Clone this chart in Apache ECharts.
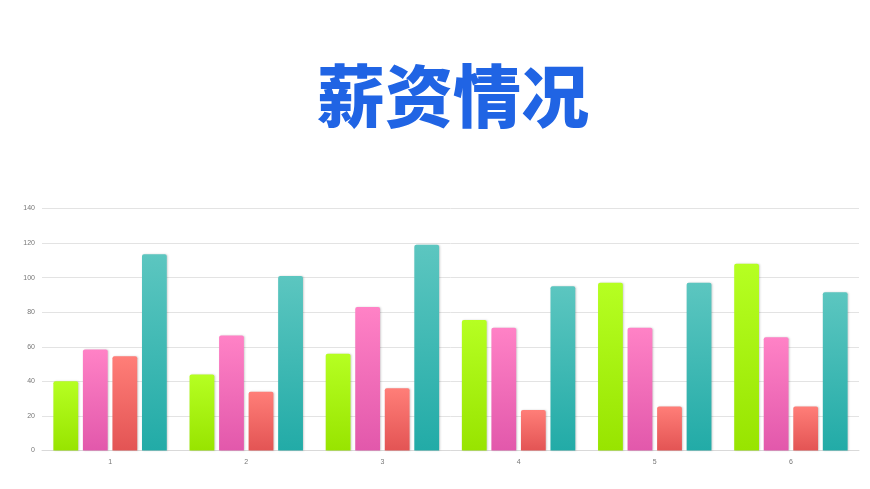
<!DOCTYPE html>
<html>
<head>
<meta charset="utf-8">
<script src="https://cdn.jsdelivr.net/npm/echarts@6/dist/echarts.min.js"></script>
<style>html,body{margin:0;padding:0;background:#fff;}#c{width:870px;height:489px;}</style>
</head>
<body>
<div id="c"></div>
<script>
const categories = ['1', '2', '3', '4', '5', '6'];
const seriesGreen = [40, 44, 56, 75.5, 97, 108];
const seriesPink = [58.5, 66.5, 83, 71, 71, 65.5];
const seriesRed = [54.5, 34, 36, 23.5, 25.5, 25.5];
const seriesTeal = [113.5, 101, 119, 95, 97, 91.5];
const yTicks = [0, 20, 40, 60, 80, 100, 120, 140];

function grad(top, bottom) {
  return new echarts.graphic.LinearGradient(0, 0, 0, 1, [
    { offset: 0, color: top },
    { offset: 1, color: bottom }
  ]);
}
const chart = echarts.init(document.getElementById('c'));
const mk = (name, data, top, bottom) => ({
  name, type: 'bar', data,
  barGap: '19%', barCategoryGap: '16.7%',
  itemStyle: {
    color: grad(top, bottom),
    borderRadius: [2, 2, 0, 0],
    shadowColor: 'rgba(0,0,0,0.18)', shadowBlur: 2, shadowOffsetX: 1, shadowOffsetY: 0
  }
});
chart.setOption({
  backgroundColor: '#fff',
  animation: false,
  title: {
    text: '薪资情况', left: 312, top: 57,
    textStyle: { fontFamily: 'Noto Sans CJK SC', fontWeight: 900, fontSize: 68, color: '#2064e4' }
  },
  grid: { left: 42, right: 11, top: 208.5, bottom: 38.5 },
  xAxis: {
    type: 'category', data: categories,
    axisLine: { lineStyle: { color: '#d9d9d9' } },
    axisTick: { show: false },
    axisLabel: { fontSize: 7, color: '#777', margin: 8 }
  },
  yAxis: {
    type: 'value', min: yTicks[0], max: yTicks[yTicks.length - 1], interval: 20,
    axisLine: { show: false }, axisTick: { show: false },
    axisLabel: { fontSize: 7, color: '#777', margin: 7 },
    splitLine: { lineStyle: { color: '#e3e3e3' } }
  },
  series: [
    mk('a', seriesGreen, '#b6ff22', '#98e400'),
    mk('b', seriesPink, '#ff82c6', '#e258ab'),
    mk('c', seriesRed, '#ff7e78', '#e35454'),
    mk('d', seriesTeal, '#5cc6c0', '#22aba7')
  ]
});
</script>
</body>
</html>
